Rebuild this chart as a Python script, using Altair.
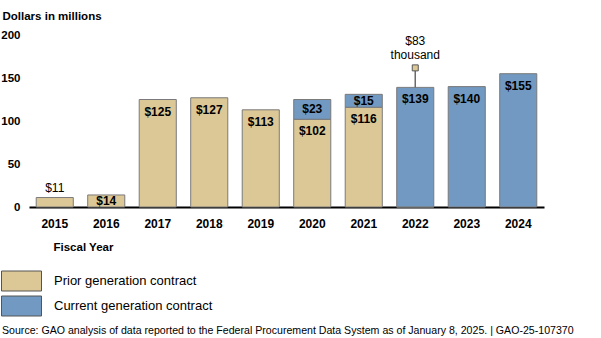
import altair as alt
import pandas as pd

years = ["2015", "2016", "2017", "2018", "2019", "2020", "2021", "2022", "2023", "2024"]
prior = [11, 14, 125, 127, 113, 102, 116, 0.083, 0, 0]
current = [0, 0, 0, 0, 0, 23, 15, 139, 140, 155]
series_names = ["Prior generation contract", "Current generation contract"]
series_colors = ["#DCC896", "#7199C1"]
y_ticks = [0, 50, 100, 150, 200]
source_text = "Source: GAO analysis of data reported to the Federal Procurement Data System as of January 8, 2025.  |  GAO-25-107370"
annotation_text = ["$83", "thousand"]

FONT = "Liberation Sans, Arial, sans-serif"

rows = []
for yr, p, c in zip(years, prior, current):
    rows.append({"year": yr, "series": series_names[0], "start": 0, "end": p, "value": p})
    rows.append({"year": yr, "series": series_names[1], "start": p, "end": p + c, "value": c})
df = pd.DataFrame(rows)
df = df[df["value"] > 0].reset_index(drop=True)

x_enc = alt.X(
    "year:N",
    sort=years,
    scale=alt.Scale(paddingInner=0.28, paddingOuter=0.14),
    axis=alt.Axis(
        title="Fiscal Year",
        labelAngle=0,
        labelFont=FONT, labelFontSize=12, labelFontWeight="bold", labelColor="black",
        labelPadding=11, ticks=False,
        domainColor="black", domainWidth=2,
        titleFont=FONT, titleFontSize=11.5, titleFontWeight="bold", titleColor="black",
        titleAlign="left", titleX=24, titleY=40, titleBaseline="middle",
    ),
)
y_scale = alt.Scale(domain=[0, 200])

base = alt.Chart(df)

bars = base.mark_bar(stroke="#7a7a7a", strokeWidth=1, opacity=1).encode(
    x=x_enc,
    y=alt.Y(
        "start:Q",
        scale=y_scale,
        axis=alt.Axis(
            values=y_ticks, grid=False, ticks=False, domain=False,
            labelFont=FONT, labelFontSize=11.5, labelFontWeight="bold", labelColor="black",
            labelPadding=9,
            title="Dollars in millions",
            titleFont=FONT, titleFontSize=11.5, titleFontWeight="bold", titleColor="black",
            titleAngle=0, titleAlign="left", titleBaseline="middle", titleX=-27, titleY=-19,
        ),
    ),
    y2="end:Q",
    fill=alt.Fill(
        "series:N",
        scale=alt.Scale(domain=series_names, range=series_colors),
        legend=alt.Legend(
            title=None, orient="none", legendX=-18, legendY=235.5, direction="vertical",
            symbolType="M-2,-1H2V1H-2Z", symbolSize=400, symbolOpacity=1,
            symbolStrokeColor="#555555", symbolStrokeWidth=1,
            labelFont=FONT, labelFontSize=13, labelColor="black", labelOffset=22,
            rowPadding=0, padding=0,
        ),
    ),
)

inside = base.transform_filter(
    "datum.year != '2015' && datum.value >= 1"
).transform_calculate(
    label="'$' + format(datum.value, '.0f')",
    ly="max(datum.end - 14, (datum.start + datum.end) / 2)",
).mark_text(font=FONT, fontSize=12, fontWeight="bold", color="black", baseline="middle").encode(
    x=alt.X("year:N", sort=years),
    y=alt.Y("ly:Q", scale=y_scale),
    text="label:N",
)

outside = base.transform_filter(
    "datum.year == '2015'"
).transform_calculate(
    label="'$' + format(datum.value, '.0f')",
).mark_text(font=FONT, fontSize=12, color="black", baseline="bottom", dy=-3).encode(
    x=alt.X("year:N", sort=years),
    y=alt.Y("end:Q", scale=y_scale),
    text="label:N",
)

tiny = base.transform_joinaggregate(
    total="sum(value)", groupby=["year"]
).transform_filter("datum.value < 1")

ann_rule = tiny.mark_rule(color="#6b6b6b", strokeWidth=1.5, y2Offset=-17).encode(
    x=alt.X("year:N", sort=years),
    y=alt.Y("total:Q", scale=y_scale),
    y2="total:Q",
)
ann_point = tiny.mark_point(
    shape="square", size=36, filled=True, fill="#DCC896", stroke="#555555",
    strokeWidth=1, opacity=1, yOffset=-19.5,
).encode(
    x=alt.X("year:N", sort=years),
    y=alt.Y("total:Q", scale=y_scale),
)
ann_text = tiny.transform_calculate(
    label=str(annotation_text)
).mark_text(
    font=FONT, fontSize=12, color="black", baseline="middle", lineHeight=13.5, dy=-46,
).encode(
    x=alt.X("year:N", sort=years),
    y=alt.Y("total:Q", scale=y_scale),
    text=alt.Text("label:N"),
)

src = alt.Chart(pd.DataFrame({"t": [source_text]})).mark_text(
    font=FONT, fontSize=10.6, color="black",
    align="left", baseline="middle",
).encode(text="t:N", x=alt.value(-27), y=alt.value(296))

chart = alt.layer(bars, inside, outside, ann_rule, ann_point, ann_text, src).properties(
    width=515, height=172,
    autosize=alt.AutoSizeParams(type="none"),
    padding={"left": 29, "top": 35, "right": 57, "bottom": 131},
).configure(
    background="white",
    view=alt.ViewConfig(strokeWidth=0, stroke="transparent"),
)

chart.save("out.html", embed_options={"renderer": "svg", "actions": False})
